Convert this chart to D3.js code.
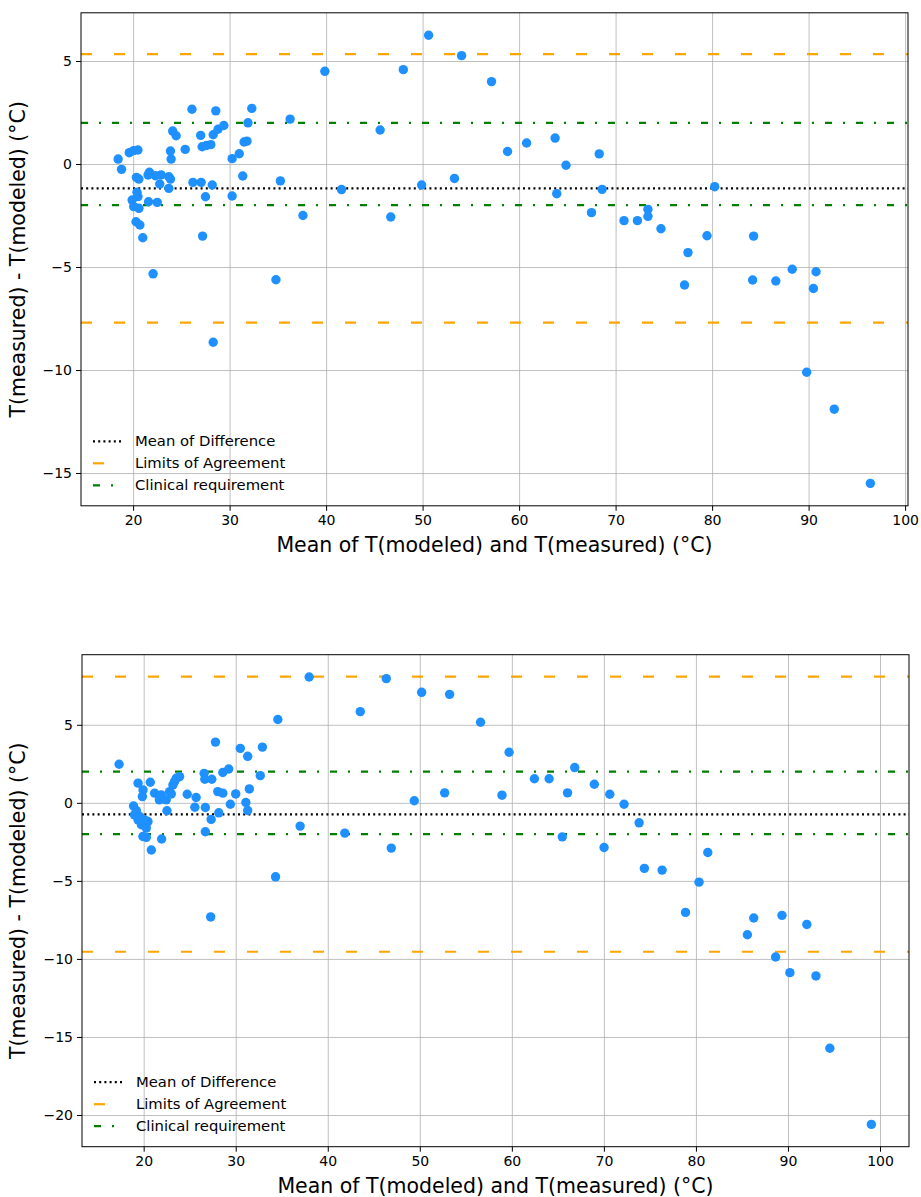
<!DOCTYPE html>
<html>
<head>
<meta charset="utf-8">
<script src="https://cdn.jsdelivr.net/npm/d3@7"></script>
<style>
  body { margin: 0; background: #fff; }
  svg { display: block; font-family: "DejaVu Sans", sans-serif; }
</style>
</head>
<body>
<svg id="chart" width="921" height="1197"></svg>
<script>
// ---- data ----
var topX = [18.45, 18.8, 19.6, 20.06, 20.5, 20.34, 20.6, 20.4, 20.5, 19.9, 20.06, 20.6, 21.6, 22.5, 20.3, 20.7, 21.0,
  21.69, 21.55, 22.3, 22.9, 23.7, 23.87, 22.76, 23.7, 23.87, 23.94, 24.1, 24.46, 25.4, 26.1, 26.2, 27.05, 27.15,
  27.0, 27.6, 28.05, 28.2, 27.5, 27.2, 28.3, 28.8, 29.4, 28.57, 30.26, 31.0, 31.5, 31.8, 31.9, 32.3, 31.36, 30.26,
  35.26, 36.27, 37.6, 39.87, 41.6, 22.07, 34.8, 28.3, 45.6, 46.7, 48.0, 49.9, 50.62, 53.3, 54.04, 57.14, 58.8,
  60.78, 63.73, 63.9, 64.86, 67.5, 68.3, 68.6, 70.87, 72.26, 73.35, 73.35, 74.7, 77.5, 77.14, 79.47, 80.27, 84.3,
  84.2, 86.6, 88.3, 90.77, 90.5, 89.8, 92.66, 96.4];
var topY = [0.24, -0.26, 0.55, 0.65, 0.68, -0.65, -0.73, -1.37, -1.58, -1.75, -2.07, -2.15, -1.83, -1.86, -2.8, -2.96, -3.58,
  -0.40, -0.53, -0.57, -0.53, -0.62, -0.73, -0.97, -1.18, 0.63, 0.24, 1.60, 1.37, 0.71, 2.66, -0.89, -0.89, 0.84,
  1.39, 0.90, 0.94, -1.02, -1.59, -3.5, 1.42, 1.69, 1.87, 2.58, 0.26, 0.50, 1.07, 1.11, 2.0, 2.70, -0.58, -1.55,
  -0.82, 2.18, -2.5, 4.50, -1.24, -5.33, -5.62, -8.65, 1.65, -2.57, 4.58, -1.02, 6.25, -0.70, 5.26, 4.0, 0.61,
  1.02, 1.26, -1.44, -0.06, -2.36, 0.49, -1.23, -2.75, -2.75, -2.20, -2.54, -3.14, -4.30, -5.87, -3.48, -1.10, -3.50,
  -5.63, -5.68, -5.11, -5.23, -6.04, -10.11, -11.9, -15.5];
var topLines = [-1.18, 5.33, -7.70, 2, -2];   // mean, upper LoA, lower LoA, +clinical, -clinical

var botX = [17.33, 18.9, 19.2, 19.0, 19.57, 19.39, 20.1, 19.75, 20.29, 20.47, 19.92, 20.29, 21.95, 20.83, 19.39, 20.72,
  19.93, 19.86, 21.19, 21.7, 22.45, 21.92, 22.82, 23.0, 23.18, 23.36, 23.54, 23.9, 22.53, 24.73, 25.7, 25.56, 26.7,
  26.57, 26.64, 27.4, 27.8, 28.05, 28.6, 28.16, 27.33, 26.7, 27.28, 28.6, 29.24, 29.42, 30.0, 30.5, 31.1, 31.3,
  31.48, 31.3, 32.67, 32.9, 34.58, 34.33, 37.0, 37.98, 41.85, 43.53, 46.36, 46.9, 49.4, 50.2, 52.7, 53.24, 56.6,
  58.93, 59.7, 62.45, 64.05, 65.48, 66.05, 66.83, 68.96, 70.02, 70.64, 72.19, 73.83, 74.4, 76.33, 78.87, 80.34,
  81.29, 85.59, 86.28, 88.66, 89.35, 90.21, 92.05, 93.04, 94.55, 99.06];
var botY = [2.47, -0.2, -0.50, -0.77, -0.88, -1.09, -1.09, -1.40, -1.62, -1.2, -2.16, -2.21, -2.32, -3.02, 1.26, 1.32,
  0.83, 0.40, 0.62, 0.19, 0.19, 0.51, 0.72, 0.57, 1.15, 1.36, 1.57, 1.68, -0.51, 0.55, 0.34, -0.28, -0.30,
  1.89, 1.51, 1.51, 3.89, 0.72, 0.62, -0.64, -1.06, -1.85, -7.31, 1.94, 2.17, -0.09, 0.57, 3.49, 0.02, -0.49,
  0.89, 2.98, 1.74, 3.57, 5.34, -4.74, -1.49, 8.06, -1.94, 5.84, 7.96, -2.90, 0.13, 7.08, 0.64, 6.95, 5.16,
  0.49, 3.24, 1.54, 1.54, -2.18, 0.64, 2.26, 1.19, -2.86, 0.55, -0.09, -1.28, -4.20, -4.31, -7.02, -5.08,
  -3.18, -8.45, -7.38, -9.88, -7.21, -10.88, -7.79, -11.09, -15.72, -20.6];
var botLines = [-0.74, 8.08, -9.54, 2, -2];

var xTicks = [20, 30, 40, 50, 60, 70, 80, 90, 100];
var topYTicks = [-15, -10, -5, 0, 5];
var botYTicks = [-20, -15, -10, -5, 0, 5];
var legendLabels = ["Mean of Difference", "Limits of Agreement", "Clinical requirement"];

var svg = d3.select("#chart");

drawChart(topX, topY, topLines, topYTicks, [14.6, 100.3], [-16.59, 7.34], {left: 81, right: 908, top: 12.8, bottom: 505.8});
drawChart(botX, botY, botLines, botYTicks, [13.3, 103.15], [-22.03, 9.49], {left: 82, right: 909, top: 654.7, bottom: 1146.7});

function drawChart(xs, ys, lines, yTicks, xDomain, yDomain, box) {
  var w = box.right - box.left, h = box.bottom - box.top;
  var x = d3.scaleLinear().domain(xDomain).range([box.left, box.right]);
  var y = d3.scaleLinear().domain(yDomain).range([box.bottom, box.top]);
  var g = svg.append("g");

  // grid
  g.append("g")
    .attr("transform", "translate(0," + box.bottom + ")")
    .call(d3.axisBottom(x).tickValues(xTicks).tickSize(-h).tickFormat(""))
    .call(function (s) { s.select(".domain").remove(); s.selectAll("line").attr("stroke", "#b0b0b0").attr("stroke-width", 0.8); });
  g.append("g")
    .attr("transform", "translate(" + box.left + ",0)")
    .call(d3.axisLeft(y).tickValues(yTicks).tickSize(-w).tickFormat(""))
    .call(function (s) { s.select(".domain").remove(); s.selectAll("line").attr("stroke", "#b0b0b0").attr("stroke-width", 0.8); });

  // reference lines
  var styles = [
    {color: "#000000", dash: "2,3.2"},
    {color: "#ffa500", dash: "11,22"},
    {color: "#ffa500", dash: "11,22"},
    {color: "#008000", dash: "7,11,2,11"},
    {color: "#008000", dash: "7,11,2,11"}
  ];
  lines.forEach(function (v, i) {
    g.append("line")
      .attr("x1", box.left).attr("x2", box.right)
      .attr("y1", y(v)).attr("y2", y(v))
      .attr("stroke", styles[i].color).attr("stroke-width", 2.2)
      .attr("stroke-dasharray", styles[i].dash);
  });

  // points
  g.append("g").selectAll("circle")
    .data(xs.map(function (d, i) { return [d, ys[i]]; }))
    .enter().append("circle")
    .attr("cx", function (d) { return x(d[0]); })
    .attr("cy", function (d) { return y(d[1]); })
    .attr("r", 4.7)
    .attr("fill", "#1e90ff");

  // frame
  g.append("rect")
    .attr("x", box.left).attr("y", box.top).attr("width", w).attr("height", h)
    .attr("fill", "none").attr("stroke", "#000").attr("stroke-width", 1);

  // axes
  var ax = g.append("g")
    .attr("transform", "translate(0," + box.bottom + ")")
    .call(d3.axisBottom(x).tickValues(xTicks).tickSize(5).tickPadding(4).tickFormat(d3.format("d")));
  var ay = g.append("g")
    .attr("transform", "translate(" + box.left + ",0)")
    .call(d3.axisLeft(y).tickValues(yTicks).tickSize(5).tickPadding(4).tickFormat(d3.format("d")));
  [ax, ay].forEach(function (a) {
    a.select(".domain").remove();
    a.selectAll("text").attr("font-size", 14).attr("fill", "#000").attr("font-family", "DejaVu Sans");
    a.selectAll("line").attr("stroke", "#000");
  });

  // labels
  g.append("text")
    .attr("x", (box.left + box.right) / 2).attr("y", box.bottom + 46)
    .attr("text-anchor", "middle").attr("font-size", 20.5)
    .text("Mean of T(modeled) and T(measured) (°C)");
  g.append("text")
    .attr("transform", "translate(18," + (box.top + box.bottom) / 2 + ") rotate(-90)")
    .attr("dy", "0.35em").attr("text-anchor", "middle").attr("font-size", 20.5)
    .text("T(measured) - T(modeled) (°C)");

  // legend (no frame)
  var leg = g.append("g").attr("transform", "translate(" + box.left + "," + (box.bottom - 64.5) + ")");
  legendLabels.forEach(function (t, i) {
    var st = styles[i === 0 ? 0 : (i === 1 ? 1 : 3)];
    leg.append("line")
      .attr("x1", 12).attr("x2", 42).attr("y1", i * 22).attr("y2", i * 22)
      .attr("stroke", st.color).attr("stroke-width", 2.2).attr("stroke-dasharray", st.dash);
    leg.append("text")
      .attr("x", 54).attr("y", i * 22).attr("dy", "0.35em")
      .attr("font-size", 14.8).text(t);
  });
}
</script>
</body>
</html>
